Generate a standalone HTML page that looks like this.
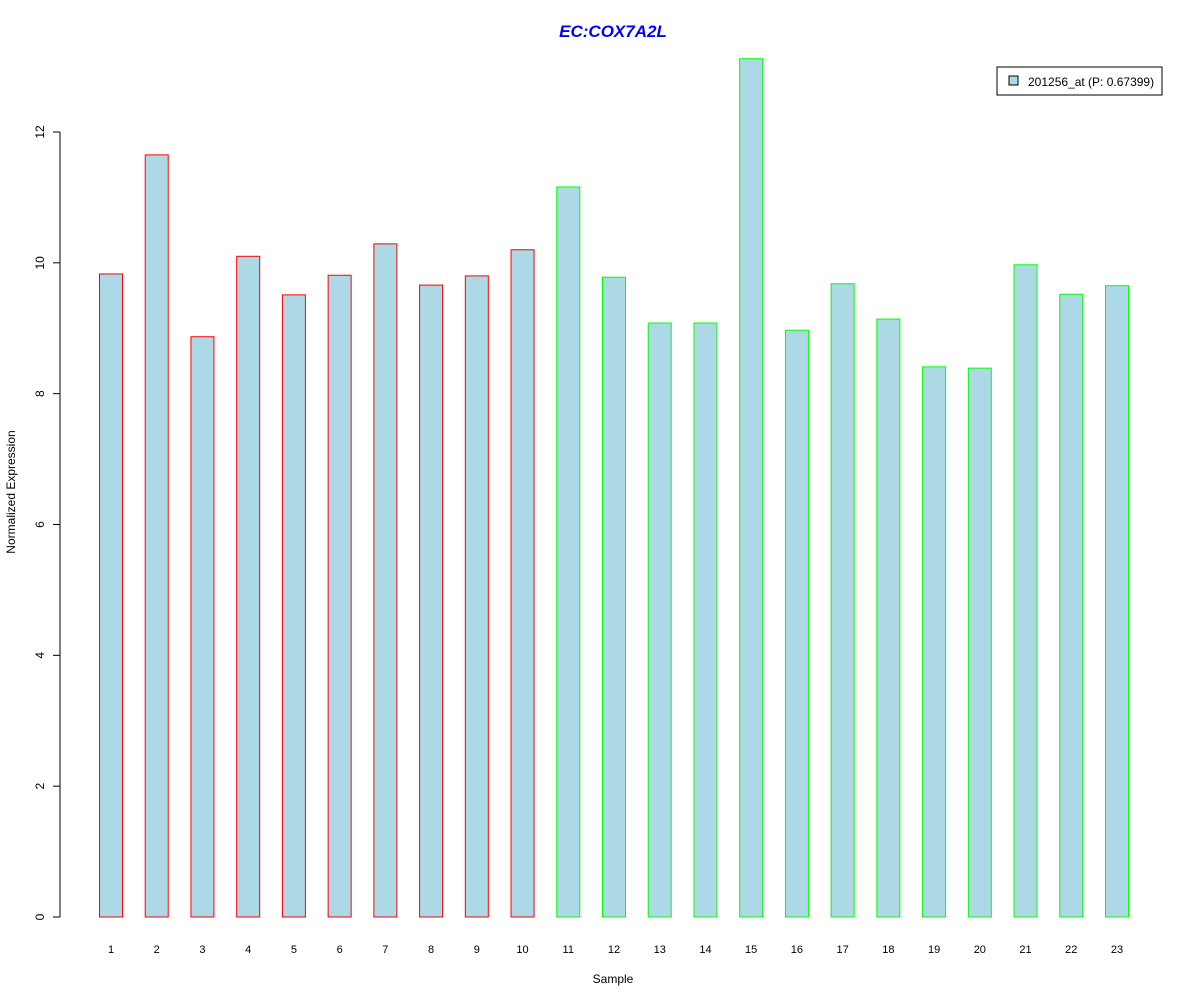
<!DOCTYPE html>
<html><head><meta charset="utf-8"><style>
body{margin:0;background:#fff;}
svg text{font-family:"Liberation Sans",Arial,sans-serif;}
</style></head><body>
<svg id="chart" width="1200" height="1000" xmlns="http://www.w3.org/2000/svg">
<rect width="1200" height="1000" fill="#fff"/>
<text x="613" y="37" text-anchor="middle" font-size="17" font-weight="bold" font-style="italic" fill="#0000ff">EC:COX7A2L</text>
<text x="613" y="983" text-anchor="middle" font-size="12">Sample</text>
<text transform="translate(15,492) rotate(-90)" text-anchor="middle" font-size="12">Normalized Expression</text>
<g id="yaxis"></g>
<g id="bars"></g>
<g id="xlabels"></g>
<g>
<rect x="997" y="67" width="165" height="28" fill="#fff" stroke="#000"/>
<rect x="1009" y="76" width="9" height="9" fill="#add8e6" stroke="#000"/>
<text x="1028" y="86" font-size="12">201256_at (P: 0.67399)</text>
</g>
</svg>
<script>
const categories=["1","2","3","4","5","6","7","8","9","10","11","12","13","14","15","16","17","18","19","20","21","22","23"];
const values=[9.83,11.65,8.87,10.10,9.51,9.81,10.29,9.66,9.80,10.20,11.16,9.78,9.08,9.08,13.12,8.97,9.68,9.14,8.41,8.39,9.97,9.52,9.65];
const groups=["a","a","a","a","a","a","a","a","a","a","b","b","b","b","b","b","b","b","b","b","b","b","b"];
const yTicks=[0,2,4,6,8,10,12];
const NS="http://www.w3.org/2000/svg";
const y=v=>917-v*(785/12);
const x=i=>111+i*(1006/22);
function mk(t,a){const e=document.createElementNS(NS,t);for(const k in a)e.setAttribute(k,a[k]);return e;}
const ya=document.getElementById('yaxis');
ya.appendChild(mk('line',{x1:60,x2:60,y1:y(0),y2:y(12),stroke:'#000'}));
yTicks.forEach(t=>{
 const l=mk('line',{x1:53,x2:60,y1:y(t),y2:y(t),stroke:'#000'});
 
 
 ya.appendChild(l);
 const tx=mk('text',{transform:`translate(44,${y(t)}) rotate(-90)`,'text-anchor':'middle','font-size':12});
 tx.textContent=t;
 
 
 ya.appendChild(tx);
});
const bg=document.getElementById('bars'),xl=document.getElementById('xlabels');
values.forEach((v,i)=>{
 const r=mk('rect',{x:x(i)-11.5,y:y(v),width:23,height:y(0)-y(v),fill:'#add8e6',stroke:groups[i]==='a'?'#ff0000':'#00ff00'});
 
 
 bg.appendChild(r);
 const t=mk('text',{x:x(i),y:953,'text-anchor':'middle','font-size':11});
 t.textContent=categories[i];
 
 
 xl.appendChild(t);
});
</script>
</body></html>
